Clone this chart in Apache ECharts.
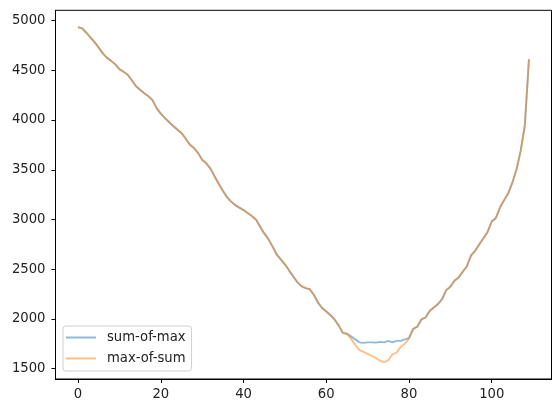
<!DOCTYPE html>
<html>
<head>
<meta charset="utf-8">
<script src="https://cdn.jsdelivr.net/npm/echarts@6/dist/echarts.min.js"></script>
<style>html,body{margin:0;padding:0;background:#fff}#c{width:560px;height:413px}</style>
</head>
<body>
<div id="c"></div>
<script>
var seriesNames = ['sum-of-max', 'max-of-sum'];
var xTicks = [0, 20, 40, 60, 80, 100];
var yTicks = [1500, 2000, 2500, 3000, 3500, 4000, 4500, 5000];

var sumOfMax = [
  4935, 4922, 4878, 4830, 4784, 4728, 4670, 4625, 4595, 4560,
  4512, 4485, 4455, 4400, 4340, 4305, 4270, 4240, 4200, 4120,
  4065, 4020, 3980, 3940, 3905, 3870, 3815, 3755, 3720, 3670,
  3600, 3565, 3512, 3435, 3360, 3290, 3225, 3180, 3145, 3120,
  3095, 3065, 3035, 3000, 2930, 2860, 2805, 2730, 2650, 2600,
  2550, 2489, 2430, 2370, 2330, 2310, 2300, 2244, 2165, 2110,
  2075, 2040, 1995, 1936, 1860, 1852, 1825, 1795, 1765, 1760,
  1765, 1765, 1762, 1770, 1765, 1780, 1765, 1780, 1780, 1795,
  1810, 1900, 1922, 1995, 2015, 2080, 2115, 2150, 2200, 2290,
  2325, 2385, 2418, 2475, 2530, 2640, 2685, 2752, 2812, 2875,
  2980, 3015, 3120, 3195, 3265, 3370, 3505, 3690, 3945, 4612
];
var maxOfSum = [
  4935, 4922, 4878, 4830, 4784, 4728, 4670, 4625, 4595, 4560,
  4512, 4485, 4455, 4400, 4340, 4305, 4270, 4240, 4200, 4120,
  4065, 4020, 3980, 3940, 3905, 3870, 3815, 3755, 3720, 3670,
  3600, 3565, 3512, 3435, 3360, 3290, 3225, 3180, 3145, 3120,
  3095, 3065, 3035, 3000, 2930, 2860, 2805, 2730, 2650, 2600,
  2550, 2489, 2430, 2370, 2330, 2310, 2300, 2244, 2165, 2110,
  2075, 2040, 1995, 1936, 1860, 1852, 1800, 1740, 1690, 1670,
  1650, 1630, 1608, 1580, 1565, 1585, 1645, 1662, 1720, 1752,
  1800, 1900, 1922, 1995, 2015, 2080, 2115, 2150, 2200, 2290,
  2325, 2385, 2418, 2475, 2530, 2640, 2685, 2752, 2812, 2875,
  2980, 3015, 3120, 3195, 3265, 3370, 3505, 3690, 3945, 4612
];

function pairs(arr) { return arr.map(function (v, i) { return [i, v]; }); }

var allVals = sumOfMax.concat(maxOfSum);
var yLo = Math.min.apply(null, allVals), yHi = Math.max.apply(null, allVals);
var yPad = 0.05 * (yHi - yLo);
var xLo = 0, xHi = sumOfMax.length - 1, xPad = 0.05 * (xHi - xLo);

var font = 'DejaVu Sans';
var fs = 13.2;
function plain(v) { return String(Math.round(v)); }
var chart = echarts.init(document.getElementById('c'), null, {renderer: 'canvas'});
chart.setOption({
  animation: false,
  backgroundColor: '#ffffff',
  color: ['rgba(31,119,180,0.5)', 'rgba(255,127,14,0.5)'],
  grid: {
    left: 55.5, right: 8.5, top: 10.3, bottom: 34,
    show: true, borderColor: '#000', borderWidth: 1, backgroundColor: 'transparent'
  },
  legend: {
    orient: 'vertical',
    left: 63, top: 326,
    padding: [4, 6, 5, 3],
    itemGap: 6,
    itemWidth: 30, itemHeight: 2,
    icon: 'rect',
    borderColor: '#d0d0d0', borderWidth: 1, borderRadius: 3,
    backgroundColor: 'rgba(255,255,255,0.8)',
    textStyle: {fontFamily: font, fontSize: fs, color: '#222', lineHeight: 15, padding: [0, 0, 0, 6]},
    data: seriesNames
  },
  xAxis: {
    type: 'value',
    min: xLo - xPad, max: xHi + xPad,
    axisLine: {show: true, onZero: false, lineStyle: {color: '#000', width: 1}},
    axisTick: {show: true, length: 4, lineStyle: {color: '#000'}, customValues: xTicks},
    axisLabel: {fontFamily: font, fontSize: fs, color: '#222', margin: 9, customValues: xTicks, formatter: plain},
    splitLine: {show: false}
  },
  yAxis: {
    type: 'value',
    min: yLo - yPad, max: yHi + yPad,
    axisLine: {show: true, onZero: false, lineStyle: {color: '#000', width: 1}},
    axisTick: {show: true, length: 4, lineStyle: {color: '#000'}, customValues: yTicks},
    axisLabel: {fontFamily: font, fontSize: fs, color: '#222', margin: 10, customValues: yTicks, formatter: plain},
    splitLine: {show: false}
  },
  series: [
    {name: seriesNames[0], type: 'line', data: pairs(sumOfMax), showSymbol: false, symbol: 'none',
     lineStyle: {width: 1.9}},
    {name: seriesNames[1], type: 'line', data: pairs(maxOfSum), showSymbol: false, symbol: 'none',
     lineStyle: {width: 1.9}}
  ]
});
</script>
</body>
</html>
